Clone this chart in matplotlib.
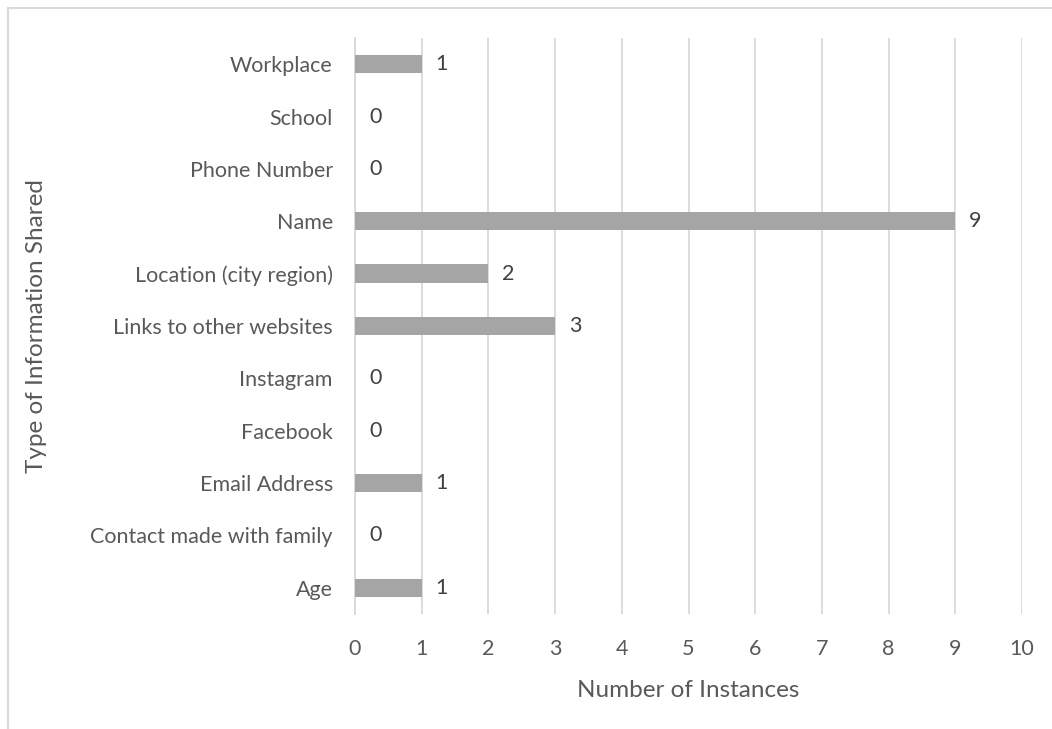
import matplotlib.pyplot as plt
from matplotlib.lines import Line2D

categories = ["Age", "Contact made with family", "Email Address", "Facebook", "Instagram",
              "Links to other websites", "Location (city region)", "Name", "Phone Number",
              "School", "Workplace"]
values = [1, 0, 1, 0, 0, 3, 2, 9, 0, 0, 1]
x_ticks = list(range(0, 11))

plt.rcParams['font.family'] = ['Lato', 'DejaVu Sans']

W, H = 1052, 729
fig = plt.figure(figsize=(W / 100, H / 100), dpi=100)
ax = fig.add_axes([355 / W, 1 - 614 / H, (1022 - 355) / W, (614 - 38) / H])

y = list(range(len(categories)))
ax.barh(y, values, height=0.35, color='#a5a5a5', zorder=3)
for yi, v in zip(y, values):
    ax.annotate(str(v), (v, yi), xytext=(14, 0), textcoords='offset pixels',
                ha='left', va='center', fontsize=15.5, color='#404040')

ax.set_xlim(0, 10)
ax.set_ylim(-0.5, len(categories) - 0.5)
ax.set_xticks(x_ticks)
ax.set_yticks(y)
ax.set_yticklabels(categories)
ax.grid(axis='x', color='#d9d9d9', linewidth=1.3, zorder=0)
for s in ['top', 'right', 'bottom']:
    ax.spines[s].set_visible(False)
ax.spines['left'].set_color('#d9d9d9')
ax.spines['left'].set_linewidth(1.3)
ax.tick_params(axis='both', length=0, labelsize=15.5, colors='#595959')
ax.tick_params(axis='x', pad=18)
ax.tick_params(axis='y', pad=16)

ax.set_xlabel("Number of Instances", fontsize=17.5, color='#595959', labelpad=15)
ax.set_ylabel("Type of Information Shared", fontsize=17.5, color='#595959')
ax.yaxis.set_label_coords(-(355 - 47) / (1022 - 355), 0.5)

# outer chart border (cropped on right and bottom)
fig.add_artist(Line2D([8 / W, 1], [1 - 8 / H, 1 - 8 / H], color='#d9d9d9', lw=1.5))
fig.add_artist(Line2D([8 / W, 8 / W], [0, 1 - 8 / H], color='#d9d9d9', lw=1.5))

fig.savefig("out.png", dpi=100, facecolor='white')
